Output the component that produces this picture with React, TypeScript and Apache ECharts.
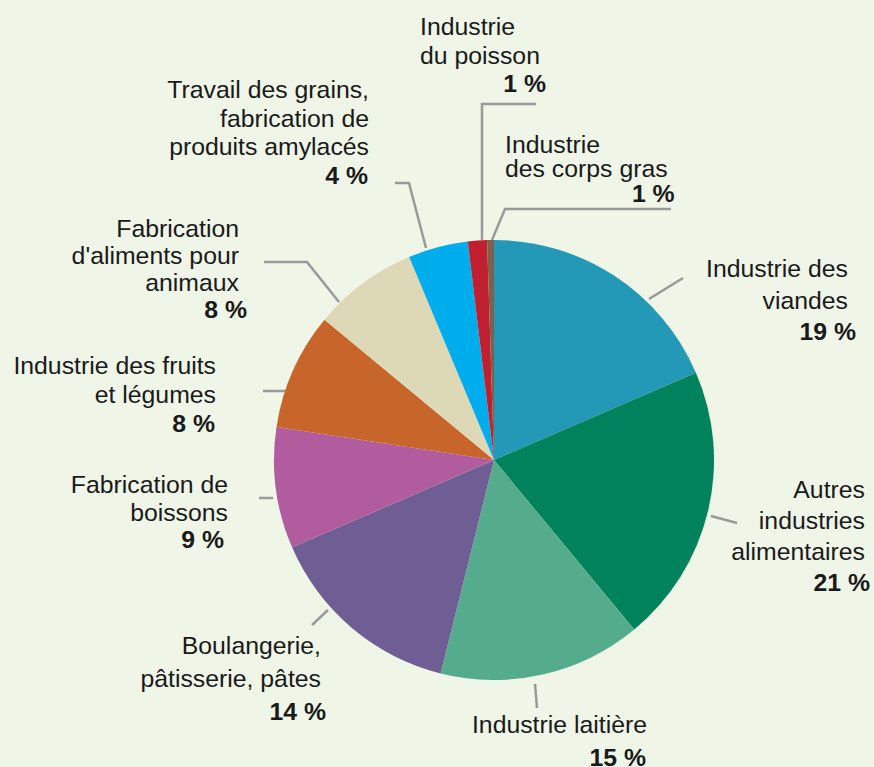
import React, { useEffect, useRef } from "react";
import * as echarts from "echarts";

// Categories, clockwise from 12 o'clock
const categories = [
  "Industrie des\nviandes",
  "Autres\nindustries\nalimentaires",
  "Industrie laitière",
  "Boulangerie,\npâtisserie, pâtes",
  "Fabrication de\nboissons",
  "Industrie des fruits\net légumes",
  "Fabrication\nd'aliments pour\nanimaux",
  "Travail des grains,\nfabrication de\nproduits amylacés",
  "Industrie\ndu poisson",
  "Industrie\ndes corps gras",
];

// Slice shares (%)
const shares = [18.5, 20.5, 14.9, 14.6, 8.9, 8.6, 7.7, 4.4, 1.4, 0.5];

// Percentages printed on the labels
const labelPercents = [19, 21, 15, 14, 9, 8, 8, 4, 1, 1];

const colors = [
  "#2398b7",
  "#00825c",
  "#55ac8c",
  "#6f5e93",
  "#b15c9e",
  "#c8652a",
  "#ddd8b5",
  "#00adec",
  "#c01f2f",
  "#7a6150",
];

// Label placement (layout only)
type LabelPlace = {
  x: number;
  y: number;
  align: "left" | "right";
  lh: number;
  padN: number;
  padP: number;
  line: number[][];
};

const labelPlaces: LabelPlace[] = [
  { x: 856, y: 253, align: "right", lh: 31.5, padN: 8, padP: 0, line: [[649, 299], [666, 288.5], [683, 278]] },
  { x: 870, y: 474, align: "right", lh: 31, padN: 5, padP: 0, line: [[711, 516], [724, 519.5], [737, 523]] },
  { x: 647, y: 708, align: "right", lh: 33, padN: 0, padP: 1, line: [[535, 684], [536, 696], [537, 708]] },
  { x: 326, y: 629, align: "right", lh: 33, padN: 5, padP: 0, line: [[328, 610], [320, 617.5], [312, 625]] },
  { x: 228, y: 471, align: "right", lh: 27.5, padN: 0, padP: 4, line: [[273, 498], [266, 498], [259, 498]] },
  { x: 216, y: 351, align: "right", lh: 29, padN: 0, padP: 1, line: [[286, 391], [275, 391], [263, 391]] },
  { x: 247, y: 215, align: "right", lh: 27, padN: 8, padP: 0, line: [[339, 302], [307, 262], [264, 262]] },
  { x: 370, y: 75.5, align: "right", lh: 28.5, padN: 1, padP: 2, line: [[426, 248], [409, 183], [395, 183]] },
  { x: 420, y: 12.5, align: "left", lh: 28.5, padN: 6, padP: 0, line: [[482, 240], [482, 104], [536, 104]] },
  { x: 505, y: 132, align: "left", lh: 24.5, padN: 7, padP: 0, line: [[492, 240], [505, 209], [671, 209]] },
];

const FONT = "'Liberation Sans', Arial, Helvetica, sans-serif";
const FONT_SIZE = 24.8;

export default function App() {
  const ref = useRef<HTMLDivElement>(null);

  useEffect(() => {
    if (!ref.current) return;
    const chart = echarts.init(ref.current, null, { renderer: "svg" });

    const data = categories.map((name, i) => {
      const pl = labelPlaces[i];
      return {
        name,
        value: shares[i],
        itemStyle: { color: colors[i] },
        label: {
          align: pl.align,
          lineHeight: pl.lh,
          rich: {
            n: {
              fontFamily: FONT,
              fontSize: FONT_SIZE,
              color: "#1a1a1a",
              lineHeight: pl.lh,
              align: pl.align,
              padding: [0, pl.padN, 0, 0],
            },
            p: {
              fontFamily: FONT,
              fontSize: FONT_SIZE,
              fontWeight: "bold",
              color: "#1a1a1a",
              lineHeight: pl.lh,
              align: "right",
              padding: [0, pl.padP, 0, 0],
            },
          },
        },
      };
    });

    chart.setOption({
      animation: false,
      backgroundColor: "#eff5e7",
      series: [
        {
          type: "pie",
          center: [494, 460],
          radius: 220,
          startAngle: 90,
          clockwise: true,
          avoidLabelOverlap: false,
          data,
          label: {
            show: true,
            position: "outside",
            fontFamily: FONT,
            fontSize: FONT_SIZE,
            color: "#1a1a1a",
            formatter: (p: any) =>
              categories[p.dataIndex]
                .split("\n")
                .map((s) => "{n|" + s + "}")
                .join("\n") +
              "\n{p|" + labelPercents[p.dataIndex] + " %}",
          },
          labelLine: {
            show: true,
            length: 15,
            length2: 15,
            smooth: false,
            lineStyle: { color: "#9a9a9a", width: 2.5 },
          },
          labelLayout: (params: any) => {
            const pl = labelPlaces[params.dataIndex];
            return {
              x: pl.x,
              y: pl.y,
              align: pl.align,
              verticalAlign: "top",
              labelLinePoints: pl.line,
            };
          },
          emphasis: { disabled: true },
        },
      ],
    });

    return () => chart.dispose();
  }, []);

  return (
    <div
      ref={ref}
      style={{ position: "fixed", left: 0, top: 0, width: 874, height: 767 }}
    />
  );
}
